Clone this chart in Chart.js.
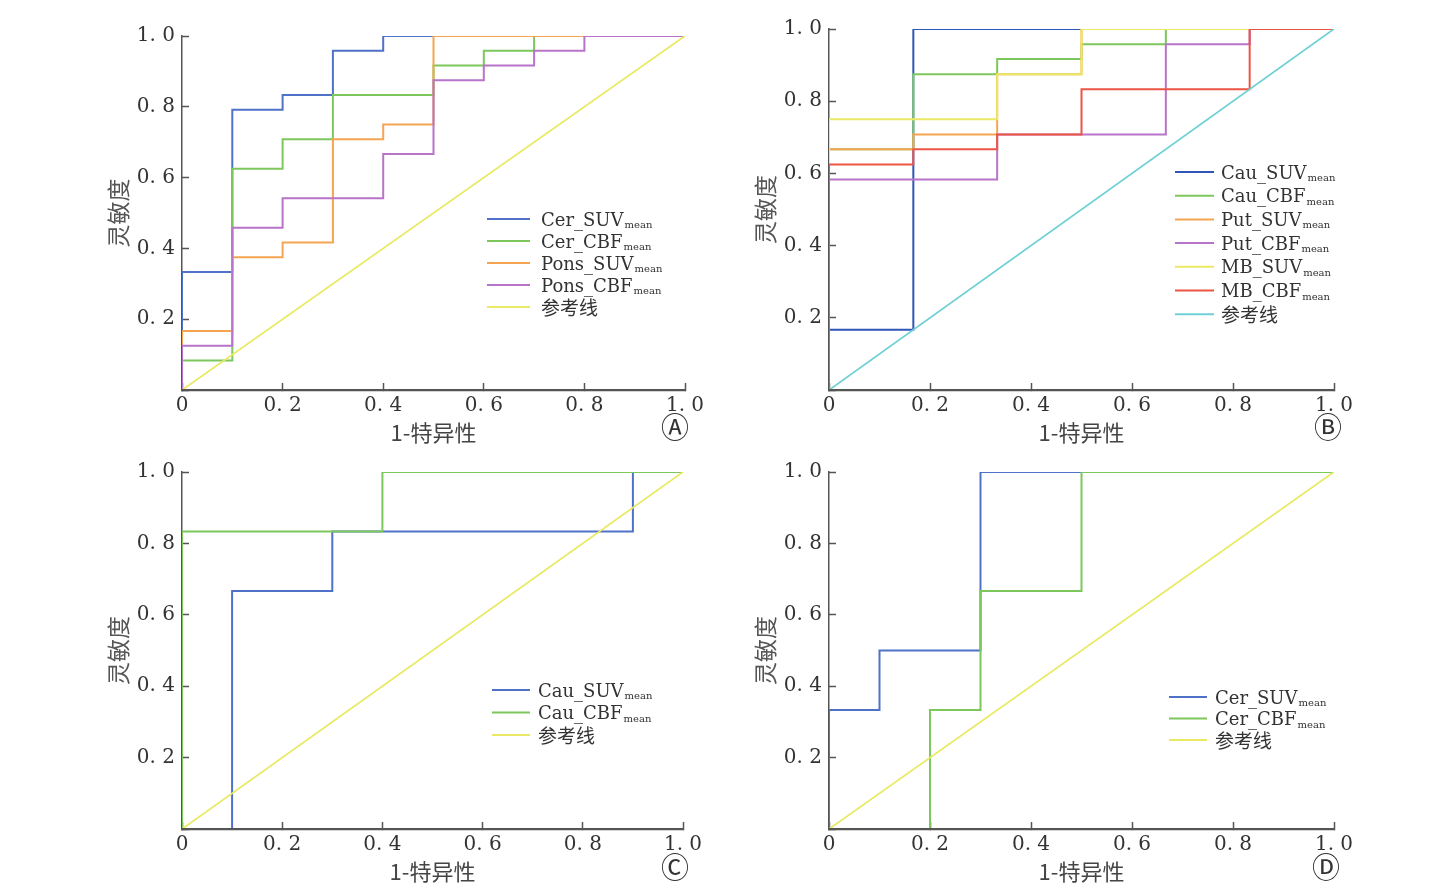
<!DOCTYPE html>
<html lang="zh-CN">
<head>
<meta charset="utf-8">
<title>ROC</title>
<script src="https://cdn.jsdelivr.net/npm/chart.js@4.4.1/dist/chart.umd.min.js"></script>
<style>
  html, body { margin: 0; padding: 0; background: #fff; }
  body { position: relative; width: 1443px; height: 883px; overflow: hidden; }
  canvas { position: absolute; }
</style>
</head>
<body>
<canvas id="rocA"></canvas>
<canvas id="rocB"></canvas>
<canvas id="rocC"></canvas>
<canvas id="rocD"></canvas>
<script>
// axis texts
const xTickText = ['0', '0. 2', '0. 4', '0. 6', '0. 8', '1. 0'];
const yTickText = ['', '0. 2', '0. 4', '0. 6', '0. 8', '1. 0'];
const subText = 'mean';
const refName = '参考线';
const xTitle = '1-特异性';
const yTitle = '灵敏度';
const refFpr = [0, 1];
const refTpr = [0, 1];

// A: 小脑 / 脑桥
const namesA = ['Cer_SUV', 'Cer_CBF', 'Pons_SUV', 'Pons_CBF'];
const fprA = [
  [0, 0, 0.1, 0.2, 0.3, 0.4, 1],
  [0, 0, 0.1, 0.2, 0.3, 0.5, 0.6, 0.7, 1],
  [0, 0, 0.1, 0.2, 0.3, 0.4, 0.5, 1],
  [0, 0, 0.1, 0.2, 0.4, 0.5, 0.6, 0.7, 0.8, 1]
];
const tprA = [
  [0, 0.333, 0.792, 0.833, 0.958, 1, 1],
  [0, 0.083, 0.625, 0.708, 0.833, 0.917, 0.958, 1, 1],
  [0, 0.167, 0.375, 0.417, 0.708, 0.75, 1, 1],
  [0, 0.125, 0.458, 0.542, 0.667, 0.875, 0.917, 0.958, 1, 1]
];

// B: 尾状核 / 壳核 / 中脑
const namesB = ['Cau_SUV', 'Cau_CBF', 'Put_SUV', 'Put_CBF', 'MB_SUV', 'MB_CBF'];
const fprB = [
  [0, 0, 0.167, 1],
  [0, 0, 0.167, 0.333, 0.5, 0.667, 1],
  [0, 0, 0.167, 0.333, 0.5, 1],
  [0, 0, 0.333, 0.667, 0.833, 1],
  [0, 0, 0.333, 0.5, 1],
  [0, 0, 0.167, 0.333, 0.5, 0.833, 1]
];
const tprB = [
  [0, 0.167, 1, 1],
  [0, 0.667, 0.875, 0.917, 0.958, 1, 1],
  [0, 0.667, 0.708, 0.875, 1, 1],
  [0, 0.583, 0.708, 0.958, 1, 1],
  [0, 0.75, 0.875, 1, 1],
  [0, 0.625, 0.667, 0.708, 0.833, 1, 1]
];

// C
const namesC = ['Cau_SUV', 'Cau_CBF'];
const fprC = [
  [0, 0.1, 0.3, 0.9, 1],
  [0, 0, 0.4, 1]
];
const tprC = [
  [0, 0.667, 0.833, 1, 1],
  [0, 0.833, 1, 1]
];

// D
const namesD = ['Cer_SUV', 'Cer_CBF'];
const fprD = [
  [0, 0, 0.1, 0.3, 1],
  [0, 0.2, 0.3, 0.5, 1]
];
const tprD = [
  [0, 0.333, 0.5, 1, 1],
  [0, 0.333, 0.667, 1, 1]
];

const BLUE = '#4f72c8';
const GREEN = '#7cc85c';
const ORANGE = '#f5a552';
const PURPLE = '#b874c8';
const YELLOW = '#e9e963';
const RED = '#ec5543';
const CYAN = '#6fd0d5';
const AXIS = '#555';

// 图例 + 圆圈字母
const rocLegend = {
  id: 'rocLegend',
  afterDraw(chart, args, opts) {
    const ctx = chart.ctx;
    ctx.save();
    chart.data.datasets.forEach((ds, i) => {
      const y = opts.y + i * opts.step;
      ctx.strokeStyle = ds.borderColor;
      ctx.lineWidth = 2;
      ctx.beginPath();
      ctx.moveTo(opts.x, y);
      ctx.lineTo(opts.x + opts.len, y);
      ctx.stroke();
      const tx = opts.x + opts.len + opts.gap;
      ctx.fillStyle = '#333';
      ctx.textAlign = 'left';
      if (ds.sub) {
        ctx.textBaseline = 'alphabetic';
        ctx.font = '18px "DejaVu Serif"';
        ctx.fillText(ds.label, tx, y + 6.5);
        const w = ctx.measureText(ds.label).width;
        ctx.font = '10px "DejaVu Serif"';
        ctx.fillText(subText, tx + w + 1, y + 9);
      } else {
        ctx.textBaseline = 'middle';
        ctx.font = '19px "Noto Sans CJK SC"';
        ctx.fillText(ds.label, tx, y + 1);
      }
    });
    ctx.fillStyle = '#333';
    ctx.font = '28px "DejaVu Sans"';
    ctx.textAlign = 'center';
    ctx.textBaseline = 'middle';
    ctx.fillText(opts.tag, opts.tagX, opts.tagY);
    ctx.restore();
  }
};

function makePanel(id, cfg) {
  const canvas = document.getElementById(id);
  const height = cfg.plot.bottom - cfg.top + 60;
  canvas.width = cfg.width;
  canvas.height = height;
  canvas.style.left = cfg.left + 'px';
  canvas.style.top = cfg.top + 'px';

  const n = cfg.names.length;
  const datasets = cfg.names.map((name, i) => ({
    label: name,
    sub: true,
    data: cfg.fpr[i].map((x, j) => ({ x, y: cfg.tpr[i][j] })),
    borderColor: cfg.colors[i],
    borderWidth: 2,
    stepped: 'before',
    pointRadius: 0,
    fill: false,
    order: n + 1 - i
  }));
  datasets.push({
    label: refName,
    sub: false,
    data: refFpr.map((x, j) => ({ x, y: refTpr[j] })),
    borderColor: cfg.refColor,
    borderWidth: 1.8,
    pointRadius: 0,
    fill: false,
    order: 0
  });

  const gridOpts = {
    drawOnChartArea: false,
    drawTicks: true,
    tickLength: -7,
    tickColor: AXIS,
    tickWidth: 1.5
  };

  return new Chart(canvas.getContext('2d'), {
    type: 'line',
    data: { datasets },
    options: {
      responsive: false,
      animation: false,
      devicePixelRatio: 1,
      layout: {
        padding: { top: cfg.plot.top - cfg.top, right: cfg.left + cfg.width - cfg.plot.right, left: 0, bottom: 0 }
      },
      scales: {
        x: {
          type: 'linear',
          min: 0,
          max: 1,
          grid: gridOpts,
          // 横轴压在曲线上面
          border: { display: true, color: AXIS, width: 2.2, z: 1 },
          ticks: {
            stepSize: 0.2,
            padding: 11,
            maxRotation: 0,
            color: '#333',
            font: { family: 'DejaVu Serif', size: 20 },
            callback: (v, i) => xTickText[i]
          },
          title: {
            display: true,
            text: xTitle,
            color: '#444',
            font: { family: 'Noto Sans CJK SC', size: 22 },
            padding: { top: 0, bottom: 4 }
          },
          afterFit: (s) => { s.height = 60; }
        },
        y: {
          type: 'linear',
          min: 0,
          max: 1,
          grid: gridOpts,
          border: { display: true, color: AXIS, width: 1.5 },
          ticks: {
            stepSize: 0.2,
            padding: 14,
            color: '#333',
            font: { family: 'DejaVu Serif', size: 20 },
            callback: (v, i) => yTickText[i]
          },
          title: {
            display: true,
            text: yTitle,
            color: '#555',
            font: { family: 'Noto Sans CJK SC', size: 23 },
            padding: { top: 4, bottom: 0 }
          },
          afterFit: (s) => { s.width = cfg.plot.left - cfg.left; }
        }
      },
      plugins: {
        legend: { display: false },
        tooltip: { enabled: false },
        rocLegend: {
          x: cfg.legend.x - cfg.left,
          y: cfg.legend.y - cfg.top,
          step: cfg.legend.step,
          len: cfg.legend.len,
          gap: cfg.legend.gap,
          tag: cfg.tag,
          tagX: cfg.tagPos[0] - cfg.left,
          tagY: cfg.tagPos[1] - cfg.top
        }
      }
    },
    plugins: [rocLegend]
  });
}

makePanel('rocA', {
  left: 100, top: 10, width: 620,
  plot: { left: 182, right: 685, top: 30, bottom: 390 },
  names: namesA, fpr: fprA, tpr: tprA,
  colors: [BLUE, GREEN, ORANGE, PURPLE], refColor: YELLOW,
  legend: { x: 487, y: 219, step: 22, len: 43, gap: 11 },
  tag: 'Ⓐ', tagPos: [675, 431]
});

makePanel('rocB', {
  left: 747, top: 3, width: 620,
  plot: { left: 829, right: 1334, top: 23, bottom: 390 },
  names: namesB, fpr: fprB, tpr: tprB,
  colors: ['#2f55b8', GREEN, ORANGE, PURPLE, YELLOW, RED], refColor: CYAN,
  legend: { x: 1175, y: 172, step: 23.7, len: 39, gap: 7 },
  tag: 'Ⓑ', tagPos: [1328, 431]
});

makePanel('rocC', {
  left: 100, top: 446, width: 620,
  plot: { left: 182, right: 683, top: 466, bottom: 829 },
  names: namesC, fpr: fprC, tpr: tprC,
  colors: [BLUE, GREEN], refColor: YELLOW,
  legend: { x: 492, y: 690, step: 22.5, len: 38, gap: 8 },
  tag: 'Ⓒ', tagPos: [675, 871]
});

makePanel('rocD', {
  left: 747, top: 446, width: 620,
  plot: { left: 829, right: 1334, top: 466, bottom: 829 },
  names: namesD, fpr: fprD, tpr: tprD,
  colors: [BLUE, GREEN], refColor: YELLOW,
  legend: { x: 1169, y: 697, step: 21.5, len: 38, gap: 8 },
  tag: 'Ⓓ', tagPos: [1326, 871]
});
</script>
</body>
</html>
